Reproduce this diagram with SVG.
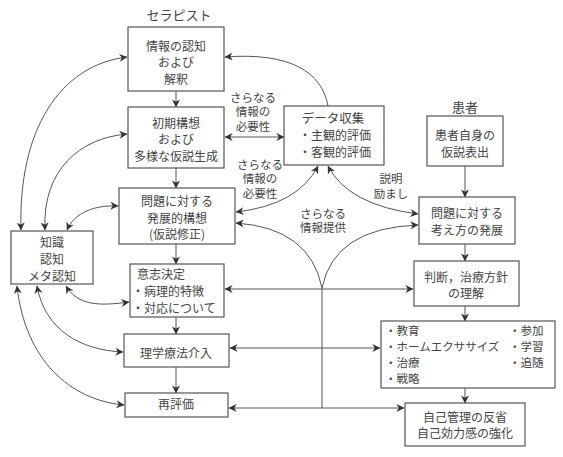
<svg xmlns="http://www.w3.org/2000/svg" width="563" height="457" viewBox="0 0 563 457">
<defs>
<marker id="ah" viewBox="0 0 10 10" refX="9.5" refY="5" markerWidth="9" markerHeight="8" markerUnits="userSpaceOnUse" orient="auto-start-reverse">
<path d="M0,0 L10,5 L0,10 L3,5 z" fill="#333"/>
</marker>
<style>
.box{fill:#fff;stroke:#555;stroke-width:1.2}
.t{font-family:"Noto Sans CJK JP","Noto Sans",sans-serif;font-size:12px;fill:#444;text-anchor:middle}
.l{font-family:"Noto Sans CJK JP","Noto Sans",sans-serif;font-size:11.5px;fill:#444;text-anchor:middle}
.s{text-anchor:start}
.h{font-size:13px}
.i{font-size:11.5px}
.c{fill:none;stroke:#555;stroke-width:1}
.a{marker-end:url(#ah)}
.d{marker-start:url(#ah);marker-end:url(#ah)}
</style>
</defs>
<rect width="563" height="457" fill="#fff"/>
<text class="t h" x="179" y="20">セラピスト</text>
<text class="t h" x="465" y="112">患者</text>
<g id="connectors">
<line class="c a" x1="176" y1="91" x2="176" y2="107"/>
<line class="c a" x1="176" y1="168" x2="176" y2="188"/>
<line class="c a" x1="176" y1="244" x2="176" y2="264"/>
<line class="c a" x1="176" y1="317" x2="176" y2="334"/>
<line class="c a" x1="176" y1="367" x2="176" y2="393"/>
<line class="c a" x1="465" y1="166" x2="465" y2="197"/>
<line class="c a" x1="465" y1="244" x2="465" y2="261"/>
<line class="c a" x1="465" y1="306" x2="465" y2="321"/>
<line class="c a" x1="465" y1="388" x2="465" y2="403"/>
<path class="c a" d="M328,106 C322,72 290,52 225,57"/>
<line class="c d" x1="225" y1="137" x2="284" y2="137"/>
<path class="c d" d="M318,166 Q298,205 236,212"/>
<path class="c d" d="M328,166 Q348,205 418,214"/>
<path class="c a" d="M322,288 Q310,228 236,223"/>
<path class="c a" d="M322,288 Q334,228 418,225"/>
<line class="c" x1="322" y1="288" x2="322" y2="408"/>
<line class="c d" x1="225" y1="289" x2="413" y2="289"/>
<line class="c d" x1="230" y1="348" x2="380" y2="348"/>
<line class="c d" x1="229" y1="408" x2="404" y2="408"/>
<path class="c d" d="M21,230 C18,130 60,65 127,57"/>
<path class="c d" d="M45,230 C42,170 80,138 127,134"/>
<path class="c d" d="M67,230 C75,212 95,205 118,206"/>
<path class="c d" d="M66,286 C78,306 100,306 129,302"/>
<path class="c d" d="M37,286 C45,330 80,350 123,352"/>
<path class="c d" d="M17,286 C25,360 70,400 124,405"/>
</g>
<g id="n-info">
<rect class="box" x="128" y="27" width="96" height="64"/>
<text class="t" x="176" y="50.5">情報の認知</text>
<text class="t" x="176" y="66.5">および</text>
<text class="t" x="176" y="83.5">解釈</text>
</g>
<g id="n-initial">
<rect class="box" x="128" y="107" width="96" height="61"/>
<text class="t" x="176" y="127.5">初期構想</text>
<text class="t" x="176" y="143.5">および</text>
<text class="t" x="176" y="160.5">多様な仮説生成</text>
</g>
<g id="n-develop">
<rect class="box" x="119" y="188" width="116" height="56"/>
<text class="t" x="177" y="206">問題に対する</text>
<text class="t" x="177" y="222.5">発展的構想</text>
<text class="t" x="177" y="239">(仮説修正)</text>
</g>
<g id="n-knowledge">
<rect class="box" x="11" y="231" width="82" height="53"/>
<text class="t" x="52" y="246.5">知識</text>
<text class="t" x="52" y="263.5">認知</text>
<text class="t" x="52" y="280.5">メタ認知</text>
</g>
<g id="n-decision">
<rect class="box" x="130" y="264" width="94" height="53"/>
<text class="t s" x="137" y="278.5">意志決定</text>
<text class="t s" x="132" y="295.5">・病理的特徴</text>
<text class="t s" x="132" y="312.5">・対応について</text>
</g>
<g id="n-pt">
<rect class="box" x="124" y="334" width="105" height="33"/>
<text class="t" x="176" y="357.5">理学療法介入</text>
</g>
<g id="n-reeval">
<rect class="box" x="125" y="393" width="103" height="24"/>
<text class="t" x="176" y="409">再評価</text>
</g>
<g id="n-data">
<rect class="box" x="284" y="106" width="100" height="59"/>
<text class="t" x="333" y="122.5" style="font-size:12.5px">データ収集</text>
<text class="t s" x="299" y="139.5">・主観的評価</text>
<text class="t s" x="299" y="156.5">・客観的評価</text>
</g>
<g id="n-patient">
<rect class="box" x="427" y="116" width="76" height="50"/>
<text class="t" x="465" y="139.5">患者自身の</text>
<text class="t" x="465" y="156.5">仮説表出</text>
</g>
<g id="n-thinking">
<rect class="box" x="419" y="197" width="96" height="47"/>
<text class="t" x="467" y="217.5">問題に対する</text>
<text class="t" x="467" y="234.5">考え方の発展</text>
</g>
<g id="n-judge">
<rect class="box" x="414" y="261" width="105" height="45"/>
<text class="t" x="466" y="281.5">判断，治療方針</text>
<text class="t" x="466" y="297.5">の理解</text>
</g>
<g id="n-items">
<rect class="box" x="381" y="321" width="174" height="67"/>
<text class="t s i" x="385" y="335">・教育</text>
<text class="t s i" x="385" y="351">・ホームエクササイズ</text>
<text class="t s i" x="385" y="367">・治療</text>
<text class="t s i" x="385" y="383">・戦略</text>
<text class="t s i" x="509" y="335">・参加</text>
<text class="t s i" x="509" y="351">・学習</text>
<text class="t s i" x="509" y="367">・追随</text>
</g>
<g id="n-self">
<rect class="box" x="405" y="403" width="120" height="43"/>
<text class="t" x="465" y="421.5">自己管理の反省</text>
<text class="t" x="465" y="437.5">自己効力感の強化</text>
</g>
<g id="labels">
<text class="l" x="253" y="101.5">さらなる</text>
<text class="l" x="253" y="116">情報の</text>
<text class="l" x="253" y="130.5">必要性</text>
<text class="l" x="260" y="168.5">さらなる</text>
<text class="l" x="260" y="183">情報の</text>
<text class="l" x="260" y="197.5">必要性</text>
<text class="l" x="323" y="217.5">さらなる</text>
<text class="l" x="323" y="232">情報提供</text>
<text class="l" x="391" y="182.5">説明</text>
<text class="l" x="391" y="197.5">励まし</text>
</g>
</svg>
